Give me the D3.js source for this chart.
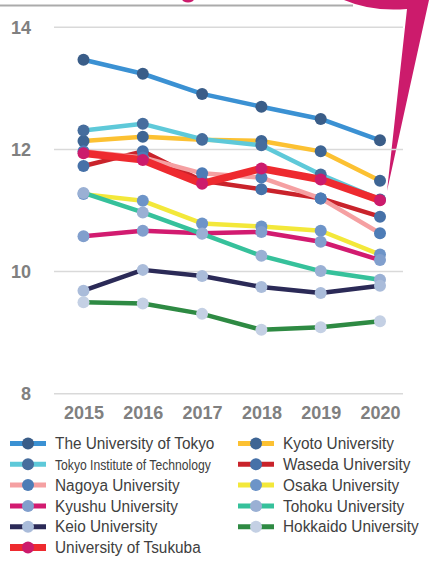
<!DOCTYPE html>
<html lang="en">
<meta charset="utf-8">
<head>
  <style>
    body { margin: 0; background: #fff; }
    .axis text { font: bold 18px "Liberation Sans", Arial, sans-serif; fill: #808080; }
    .axis path { display: none; }
    .axis line { stroke: #d9d9d9; stroke-width: 1.5; }
    .legend text { font: 16px "Liberation Sans", Arial, sans-serif; fill: #404040; }
  </style>
  <title></title>
</head>
<body>
<script src="https://d3js.org/d3.v7.min.js"></script>
<script>

  // years on the x axis
  const years = [2015, 2016, 2017, 2018, 2019, 2020];
  const yTicks = [8, 10, 12, 14];

  // one value per year
  const tokyo     = [13.46, 13.23, 12.90, 12.69, 12.49, 12.14];
  const kyoto     = [12.13, 12.20, 12.15, 12.13, 11.96, 11.48];
  const tokyoTech = [12.30, 12.41, 12.16, 12.06, 11.58, 11.17];
  const waseda    = [11.72, 11.96, 11.48, 11.34, 11.19, 10.89];
  const nagoya    = [11.96, 11.86, 11.60, 11.53, 11.19, 10.62];
  const osaka     = [11.26, 11.15, 10.78, 10.73, 10.66, 10.27];
  const kyushu    = [10.57, 10.66, 10.62, 10.64, 10.48, 10.18];
  const tohoku    = [11.28, 10.96, 10.61, 10.25, 10.00, 9.86];
  const keio      = [9.68, 10.02, 9.92, 9.74, 9.64, 9.76];
  const hokkaido  = [9.49, 9.47, 9.30, 9.04, 9.08, 9.18];
  const tsukuba   = [11.93, 11.82, 11.43, 11.68, 11.50, 11.16];

  // name, values, line colour, marker colour
  const series = [
    {name: "The University of Tokyo", values: tokyo, line: "#3b91d3", dot: "#3a5d88"},
    {name: "Kyoto University", values: kyoto, line: "#fcc132", dot: "#3e6594"},
    {name: "Tokyo Institute of Technology", values: tokyoTech, line: "#5ec9d9", dot: "#466d9d"},
    {name: "Waseda University", values: waseda, line: "#c9232b", dot: "#4671a8"},
    {name: "Nagoya University", values: nagoya, line: "#f5a0a2", dot: "#4d7cb6"},
    {name: "Osaka University", values: osaka, line: "#f3e83a", dot: "#6d94c8"},
    {name: "Kyushu University", values: kyushu, line: "#d21b70", dot: "#819fcd"},
    {name: "Tohoku University", values: tohoku, line: "#36c19b", dot: "#9ab0d4"},
    {name: "Keio University", values: keio, line: "#2b2a57", dot: "#aabcda"},
    {name: "Hokkaido University", values: hokkaido, line: "#2e8a43", dot: "#c4d0e4"},
    {name: "University of Tsukuba", values: tsukuba, line: "#ee2a2f", dot: "#cc1b6c"}
  ];

  // legend order: left column then right column
  const legendLeft = ["The University of Tokyo", "Tokyo Institute of Technology", "Nagoya University",
    "Kyushu University", "Keio University", "University of Tsukuba"];
  const legendRight = ["Kyoto University", "Waseda University", "Osaka University",
    "Tohoku University", "Hokkaido University"];

  const width = 429, height = 563;

  const svg = d3.select("body").append("svg")
      .attr("width", width)
      .attr("height", height);

  // decoration at the top (cut from a larger slide)
  svg.append("line")
      .attr("x1", 0).attr("x2", 353)
      .attr("y1", 5.5).attr("y2", 5.5)
      .attr("stroke", "#ababab").attr("stroke-width", 2);
  svg.append("ellipse")
      .attr("cx", 188).attr("cy", -1).attr("rx", 6).attr("ry", 3.5)
      .attr("fill", "#cc1b6c");
  svg.append("path")
      .attr("d", "M344,0 Q372,12 407,9 L387,191 L429,0 Z")
      .attr("fill", "#cc1b6c");

  const x = d3.scalePoint().domain(years).range([83.5, 380]);
  const y = d3.scaleLinear().domain([8, 14]).range([393.3, 26.7]);

  const yAxis = d3.axisLeft(y)
      .tickValues(yTicks)
      .tickFormat(d3.format("d"))
      .tickSize(-349)
      .tickPadding(23);

  svg.append("g")
      .attr("class", "axis")
      .attr("transform", "translate(54,0)")
      .call(yAxis)
      .selectAll("text")
      .attr("dy", "0.35em");

  const xAxis = d3.axisBottom(x).tickSize(0).tickPadding(0);
  svg.append("g")
      .attr("class", "axis")
      .attr("transform", "translate(0,405)")
      .call(xAxis)
      .selectAll("text")
      .attr("dy", "0.75em");

  const line = d3.line()
      .x(function (d, i) { return x(years[i]); })
      .y(function (d) { return y(d); });

  const g = svg.append("g");

  series.forEach(function (s) {
    const thick = s.name === "University of Tsukuba" ? 7.5 : 4.5;
    g.append("path")
        .datum(s.values)
        .attr("fill", "none")
        .attr("stroke", s.line)
        .attr("stroke-width", thick)
        .attr("stroke-linejoin", "round")
        .attr("d", line);
    g.selectAll(null)
        .data(s.values)
        .enter().append("circle")
        .attr("cx", function (d, i) { return x(years[i]); })
        .attr("cy", function (d) { return y(d); })
        .attr("r", 6)
        .attr("fill", s.dot);
  });

  // legend
  const byName = {};
  series.forEach(function (s) { byName[s.name] = s; });

  function drawLegend(names, x0, y0) {
    const leg = svg.append("g").attr("class", "legend")
        .attr("transform", "translate(" + x0 + "," + y0 + ")");
    const item = leg.selectAll("g")
        .data(names)
        .enter().append("g")
        .attr("transform", function (d, i) { return "translate(0," + (i * 20.8) + ")"; });
    item.append("line")
        .attr("x1", 0).attr("x2", 36)
        .attr("stroke", function (d) { return byName[d].line; })
        .attr("stroke-width", function (d) { return d === "University of Tsukuba" ? 7 : 5; });
    item.append("circle")
        .attr("cx", 18).attr("r", 6)
        .attr("fill", function (d) { return byName[d].dot; });
    item.append("text")
        .attr("x", 45)
        .attr("dy", "0.36em")
        .style("font-size", function (d) { return d === "Tokyo Institute of Technology" ? "15px" : null; })
        .text(function (d) { return d; })
        .each(function (d) {
          // the source font is a narrow face
          const squeeze = d === "Tokyo Institute of Technology" ? 0.81 : 0.96;
          const w = this.getComputedTextLength();
          d3.select(this)
              .attr("textLength", w * squeeze)
              .attr("lengthAdjust", "spacingAndGlyphs");
        });
  }

  drawLegend(legendLeft, 10, 443.5);
  drawLegend(legendRight, 238, 443.5);

</script>
</body>
</html>
